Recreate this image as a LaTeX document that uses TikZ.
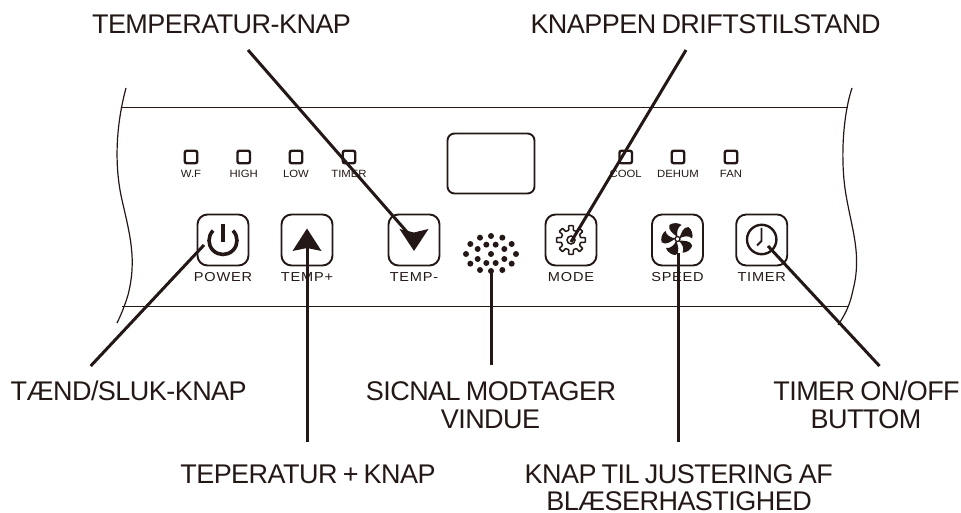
\documentclass[tikz,border=0pt]{standalone}
\usepackage{fontspec}
\setmainfont{Liberation Sans}
\newfontfamily\calloutfont[LetterSpace=-2,WordSpace=0.75]{Liberation Sans}
\newfontfamily\panelfont[LetterSpace=6,FakeStretch=1.12]{Liberation Sans}
\newfontfamily\lampfont[FakeStretch=1.08]{Liberation Sans}
\definecolor{ink}{HTML}{231815}
\tikzset{
  callout/.style={font=\fontsize{27}{28}\calloutfont,inner sep=0pt,anchor=base,text=ink},
  pointer/.style={line width=3pt,draw=ink},
  keybox/.style={draw=ink,line width=1.9pt,rounded corners=10pt,minimum size=51pt,inner sep=0pt},
  keylabel/.style={font=\fontsize{13}{14}\panelfont,inner sep=0pt,anchor=base,text=ink},
  lamp/.style={draw=ink,line width=2.4pt,rounded corners=2pt,minimum size=12.5pt,inner sep=0pt},
  lamplabel/.style={font=\fontsize{10.5}{12}\lampfont,inner sep=0pt,anchor=base,text=ink},
  edge/.style={draw=ink,line width=1.2pt}
}
\begin{document}
\begin{tikzpicture}[x=1pt,y=-1pt]
\useasboundingbox (0,0) rectangle (961,513);

% panel
\draw[edge] (122,107.5) -- (848,107.5);
\draw[edge] (122,306.5) -- (848,306.5);
\draw[edge] (126,88) .. controls (116,125) and (114,165) .. (122,200) .. controls (130,235) and (137,260) .. (128,295) .. controls (125,305) and (121,315) .. (117,323);
\draw[edge] (852,88) .. controls (843,115) and (840,160) .. (846,195) .. controls (852,230) and (862,255) .. (853,290) .. controls (850,305) and (845,315) .. (838,325);

\node[draw=ink,line width=1.9pt,rounded corners=7pt,minimum width=87pt,minimum height=60pt,inner sep=0pt] (display) at (491,163.5) {};

% lamps
\node[lamp] (lwf) at (191,157) {};
\node[lamp] (lhigh) at (243.7,157) {};
\node[lamp] (llow) at (296,157) {};
\node[lamp] (ltimer) at (349,157) {};
\node[lamp] (lcool) at (625.7,157) {};
\node[lamp] (ldehum) at (678,157) {};
\node[lamp] (lfan) at (731,157) {};

\node[lamplabel] (twf) at (191,177.7) {W.F};
\node[lamplabel] (thigh) at (243.7,177.7) {HIGH};
\node[lamplabel] (tlow) at (296,177.7) {LOW};
\node[lamplabel] (ttimer) at (349,177.7) {TIMER};
\node[lamplabel] (tcool) at (625.7,177.7) {COOL};
\node[lamplabel] (tdehum) at (678,177.7) {DEHUM};
\node[lamplabel] (tfan) at (731,177.7) {FAN};

% keys
\node[keybox] (power) at (223,240) {};
\node[keybox] (tempup) at (307,240) {};
\node[keybox] (tempdown) at (414,240) {};
\node[keybox] (mode) at (571,240) {};
\node[keybox] (speed) at (677.5,240) {};
\node[keybox] (timer) at (761.7,240) {};

\node[keylabel] (tpower) at (223,281) {POWER};
\node[keylabel] (ttempup) at (307,281) {TEMP+};
\node[keylabel] (ttempdown) at (414,281) {TEMP-};
\node[keylabel] (tmode) at (571,281) {MODE};
\node[keylabel] (tspeed) at (677.5,281) {SPEED};
\node[keylabel] (tkeytimer) at (761.7,281) {TIMER};

% icons
\draw[ink,line width=3.6pt,shift={(223,240.5)}] (315:14) arc[start angle=315,end angle=585,radius=14];
\draw[ink,line width=3.2pt] (223,224) -- (223,241.5);
\fill[ink] (307,228.5) -- (321.5,251) -- (307,248) -- (292.5,251) -- cycle;
\fill[ink] (399.5,229) -- (414,232.5) -- (428.5,229) -- (414,251) -- cycle;
\begin{scope}[shift={(571,240)}]
\draw[ink,line width=1.5pt,rounded corners=0.6pt] (-13:10)
  \foreach \a in {0,45,...,315} { -- (\a-13:10) -- (\a-9:14.5) -- (\a+9:14.5) -- (\a+13:10) } -- cycle;
\draw[ink,line width=1.5pt] (0,0) circle[radius=4];
\end{scope}
\foreach \a in {0,72,144,216,288}
  \fill[ink,shift={(677.5,239)},rotate=\a] (0,-2) .. controls (-4,-5) and (-10,-9) .. (-8,-14) .. controls (-5,-16.5) and (1,-16.5) .. (4,-14) .. controls (0,-12) and (-1,-7) .. (0,-2) -- cycle;
\draw[ink,fill=white,line width=1.3pt] (677.5,239) circle[radius=2.5];
\draw[ink,line width=2.4pt] (761.7,239.5) circle[radius=14.7];
\draw[ink,line width=1.8pt] (761.5,228) -- (761.5,241) -- (757,245.5);

% receiver
\foreach \px/\py in {120/473,153/468,187/473,91/492,139/494,167/494,215/492,113/507,193/507,78/522,153/522,228/522,113/537,193/537,91/551,139/549,167/549,215/551,120/570,153/573,187/570}
  \fill[ink] ({440+\px/3},{80+\py/3}) circle[radius=3];

% labels
\node[callout] (ltempdown) at (221.5,33.5) {TEMPERATUR-KNAP};
\node[callout] (lmode) at (705.5,33.5) {KNAPPEN DRIFTSTILSTAND};
\node[callout] (lpower) at (128.7,400) {TÆND/SLUK-KNAP};
\node[callout] (lsignal) at (491,400) {SICNAL MODTAGER};
\node[callout] (lsignalb) at (490.5,428.3) {VINDUE};
\node[callout] (ltimeron) at (866.5,400) {TIMER ON/OFF};
\node[callout] (ltimerb) at (866,428.3) {BUTTOM};
\node[callout] (ltempup) at (308,483) {TEPERATUR + KNAP};
\node[callout] (lspeed) at (678.7,483) {KNAP TIL JUSTERING AF};
\node[callout] (lspeedb) at (679,510.5) {BLÆSERHASTIGHED};

% pointers
\coordinate (atempdown) at (248,50);
\coordinate (btempdown) at (407,232);
\coordinate (amode) at (686,50);
\coordinate (bmode) at (571,242);
\coordinate (apower) at (90.7,366);
\coordinate (bpower) at (204,245);
\coordinate (atempup) at (307.3,442);
\coordinate (btempup) at (307.3,248);
\coordinate (asignal) at (491.5,365);
\coordinate (bsignal) at (491.5,270);
\coordinate (aspeed) at (678.5,442);
\coordinate (bspeed) at (678.5,253);
\coordinate (atimer) at (879.5,366);
\coordinate (btimer) at (768,246);

\draw[pointer] (atempdown) -- (btempdown);
\draw[pointer] (amode) -- (bmode);
\draw[pointer] (apower) -- (bpower);
\draw[pointer] (atempup) -- (btempup);
\draw[pointer] (asignal) -- (bsignal);
\draw[pointer] (aspeed) -- (bspeed);
\draw[pointer] (atimer) -- (btimer);
\end{tikzpicture}
\end{document}
